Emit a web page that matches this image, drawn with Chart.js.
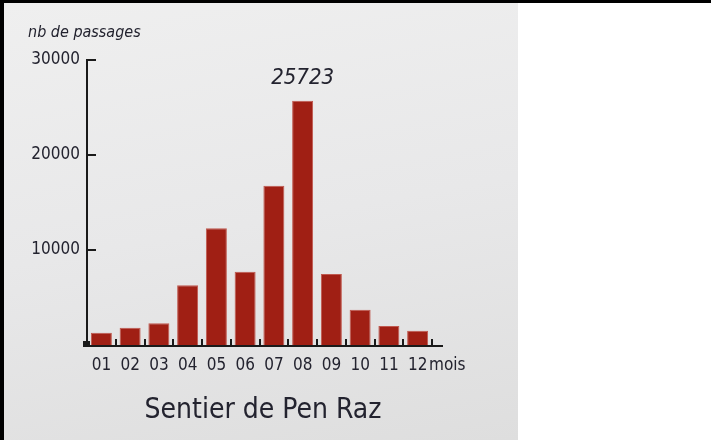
<!DOCTYPE html>
<html><head><meta charset="utf-8">
<script src="https://cdn.jsdelivr.net/npm/chart.js@4"></script>
<style>
html,body{margin:0;padding:0;width:711px;height:440px;overflow:hidden;background:#fff;}
#top{position:absolute;left:0;top:0;width:711px;height:3px;background:#000;}
#left{position:absolute;left:0;top:0;width:4px;height:440px;background:#000;}
#panel{position:absolute;left:4px;top:3px;width:514px;height:437px;background:linear-gradient(170deg,#efefef 0%,#e8e8e9 50%,#dedede 100%);}
#wrap{position:absolute;left:0;top:0;width:711px;height:440px;}
</style></head><body>
<div id="panel"></div><div id="top"></div><div id="left"></div>
<div id="wrap"><canvas id="c" width="711" height="440"></canvas></div>
<script>
// ---- data ----
const months = ['01','02','03','04','05','06','07','08','09','10','11','12'];
const passages = [1300, 1820, 2280, 6300, 12280, 7700, 16770, 25723, 7470, 3700, 2000, 1500];
const yTickValues = [10000, 20000, 30000];
const yMax = 30000;
const highlightIndex = 7;
const yAxisTitle = 'nb de passages';
const xUnit = 'mois';
const chartTitle = 'Sentier de Pen Raz';

const FONT = '"DejaVu Sans Condensed", "Liberation Sans Narrow", sans-serif';
const TEXT = '#23232f';

const decor = {
  id: 'decor',
  afterDraw(chart) {
    const {ctx, chartArea: a, scales: {x, y}} = chart;
    ctx.save();
    ctx.strokeStyle = '#1a1a1a';
    ctx.lineWidth = 2;
    // y ticks pointing inward
    yTickValues.forEach(v => {
      const py = Math.round(y.getPixelForValue(v));
      ctx.beginPath(); ctx.moveTo(a.left - 1, py); ctx.lineTo(a.left + 9, py); ctx.stroke();
    });
    // x axis line (extends past last category)
    const by = Math.round(y.getPixelForValue(0)) + 1;
    ctx.beginPath(); ctx.moveTo(a.left - 3, by); ctx.lineTo(a.right + 11, by); ctx.stroke();
    // x ticks at category boundaries, pointing up
    for (let i = 0; i < months.length; i++) {
      const px = Math.round(x.getPixelForValue(i + 0.5));
      ctx.beginPath(); ctx.moveTo(px, by); ctx.lineTo(px, by - 7); ctx.stroke();
    }
    // origin corner
    ctx.fillStyle = '#1a1a1a';
    ctx.fillRect(a.left - 4, by - 5, 7, 6);
    // texts
    ctx.fillStyle = TEXT;
    ctx.textBaseline = 'alphabetic';
    ctx.textAlign = 'left';
    ctx.font = 'italic 16px ' + FONT;
    ctx.fillText(yAxisTitle, 28, 37);
    ctx.font = '17px ' + FONT;
    ctx.fillText(xUnit, a.right - 3, 370);
    ctx.textAlign = 'center';
    ctx.font = '28px ' + FONT;
    ctx.fillText(chartTitle, 263, 418);
    // highlighted value label
    const bar = chart.getDatasetMeta(0).data[highlightIndex];
    ctx.font = 'italic 22px ' + FONT;
    ctx.fillText(String(passages[highlightIndex]), bar.x, y.getPixelForValue(passages[highlightIndex]) - 17);
    ctx.restore();
  }
};

new Chart(document.getElementById('c'), {
  type: 'bar',
  data: {
    labels: months,
    datasets: [{
      data: passages,
      backgroundColor: '#a01f14',
      borderColor: '#c0584e',
      borderWidth: 1,
      categoryPercentage: 1,
      barPercentage: 0.73
    }]
  },
  options: {
    responsive: false,
    animation: false,
    devicePixelRatio: 1,
    layout: { padding: { left: 0, top: 60, right: 279, bottom: 55 } },
    plugins: { legend: { display: false }, tooltip: { enabled: false }, title: { display: false } },
    scales: {
      x: {
        offset: true,
        grid: { display: false, drawTicks: false },
        border: { display: false },
        ticks: { color: TEXT, font: { family: FONT, size: 17 }, padding: 10, maxRotation: 0, autoSkip: false },
        afterFit: s => { s.height = 40; }
      },
      y: {
        min: 0, max: yMax,
        afterBuildTicks: s => { s.ticks = yTickValues.map(v => ({ value: v })); },
        grid: { display: false, drawTicks: false },
        border: { display: true, color: '#1a1a1a', width: 2 },
        ticks: { color: TEXT, font: { family: FONT, size: 17 }, padding: 7, callback: v => String(v) },
        afterFit: s => { s.width = 87; }
      }
    }
  },
  plugins: [decor]
});
</script>
</body></html>
